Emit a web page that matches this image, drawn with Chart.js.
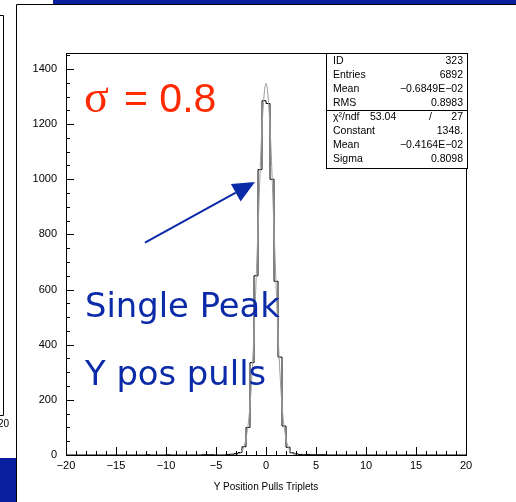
<!DOCTYPE html>
<html>
<head>
<meta charset="utf-8">
<script src="https://cdn.jsdelivr.net/npm/chart.js@4"></script>
<style>
  html, body { margin: 0; padding: 0; background: #fff; }
  #wrap { width: 516px; height: 502px; position: relative; }
</style>
</head>
<body>
<div id="wrap"><canvas id="pullsChart" width="516" height="502"></canvas></div>
<script>
// histogram: 100 bins of 0.4 from -20 to 20
const binStart = -20;
const binWidth = 0.4;
const counts = [
    0, 0, 0, 0, 0, 0, 0, 0, 0, 0,        // -20.0 .. -16.4
    0, 0, 0, 0, 0, 0, 0, 0, 0, 0,        // -16.0 .. -12.4
    1, 0, 0, 0, 0, 1, 0, 0, 0, 0,        // -12.0 .. -8.4
    0, 0, 0, 0, 1, 1, 1, 0, 0, 0,        // -8.0 .. -4.4
    2, 3, 5, 9, 30, 100, 335, 650, 1035, 1285,   // -4.0 .. -0.4
    1275, 1000, 630, 355, 105, 28, 8, 4, 2, 1,   // 0.0 .. 3.6
    2, 1, 1, 1, 1, 0, 0, 0, 0, 0,        // 4.0 .. 7.6
    0, 0, 0, 0, 0, 0, 0, 0, 0, 0,        // 8.0 .. 11.6
    0, 0, 0, 0, 0, 0, 0, 0, 0, 0,        // 12.0 .. 15.6
    0, 0, 0, 0, 0, 0, 0, 0, 0, 0         // 16.0 .. 19.6
];

// gaussian fit curve
const fitX = [-3.2, -2.8, -2.4, -2.0, -1.6, -1.2, -0.8, -0.4, 0, 0.4, 0.8, 1.2, 1.6, 2.0, 2.4, 2.8, 3.2];
const fitY = [1, 3, 15, 60, 180, 440, 820, 1190, 1348, 1190, 820, 440, 180, 60, 15, 3, 1];

const xTicks = [-20, -15, -10, -5, 0, 5, 10, 15, 20];
const yTicks = [0, 200, 400, 600, 800, 1000, 1200, 1400];

const statsTop = [["ID", "323"], ["Entries", "6892"], ["Mean", "\u22120.6849E\u221202"], ["RMS", "0.8983"]];
const statsFit = [["Constant", "1348."], ["Mean", "\u22120.4164E\u221202"], ["Sigma", "0.8098"]];
const chiText = ["\u03c7\u00b2/ndf", "53.04", "/", "27"];

const xTitle = "Y Position Pulls Triplets";
const sigmaLabel = "0.8";
const noteLines = ["Single Peak", "Y pos pulls"];

const histPoints = counts.map((c, i) => ({ x: binStart + i * binWidth, y: c }));
histPoints.push({ x: binStart + counts.length * binWidth, y: counts[counts.length - 1] });
const fitPoints = fitX.map((x, i) => ({ x: x, y: fitY[i] }));

const minus = v => String(v).replace("-", "\u2212");

const decor = {
    id: "decor",
    afterDraw(chart) {
        const ctx = chart.ctx;
        const xs = chart.scales.x, ys = chart.scales.y;
        const a = chart.chartArea;
        ctx.save();

        // slide bits around the plot
        ctx.fillStyle = "#0a1fa0";
        ctx.fillRect(53, 0, 463, 4);
        ctx.fillRect(0, 458, 16, 44);
        ctx.strokeStyle = "#000";
        ctx.lineWidth = 1;
        ctx.beginPath();
        ctx.moveTo(16.5, 502); ctx.lineTo(16.5, 4.5); ctx.lineTo(516, 4.5);
        ctx.moveTo(0, 15.5); ctx.lineTo(3.5, 15.5); ctx.lineTo(3.5, 415.5); ctx.lineTo(0, 415.5);
        ctx.stroke();
        ctx.fillStyle = "#000";
        ctx.font = "10px 'Liberation Sans'";
        ctx.textAlign = "right";
        ctx.textBaseline = "middle";
        ctx.fillText("20", 9, 424);

        // frame top and right
        ctx.beginPath();
        ctx.moveTo(a.left, a.top + 0.5); ctx.lineTo(a.right + 1, a.top + 0.5);
        ctx.moveTo(a.right + 0.5, a.top); ctx.lineTo(a.right + 0.5, a.bottom);
        ctx.stroke();

        // inward ticks
        ctx.beginPath();
        for (let v = -20; v <= 20; v++) {
            const px = Math.round(xs.getPixelForValue(v)) + 0.5;
            const len = v % 5 === 0 ? 8 : 4;
            ctx.moveTo(px, a.bottom); ctx.lineTo(px, a.bottom - len);
        }
        for (let v = 0; v <= 1450; v += 50) {
            const py = Math.round(ys.getPixelForValue(v)) + 0.5;
            const len = v % 200 === 0 ? 8 : 4;
            ctx.moveTo(a.left, py); ctx.lineTo(a.left + len, py);
        }
        ctx.stroke();

        // axis title
        ctx.font = "10px 'Liberation Sans'";
        ctx.textAlign = "center";
        ctx.textBaseline = "middle";
        ctx.fillText(xTitle, (a.left + a.right) / 2, 487);

        // stats box
        const bx = 326, by = a.top, bw = a.right + 2 - 326, bh = 115;
        ctx.fillStyle = "#fff";
        ctx.fillRect(bx, by, bw, bh);
        ctx.strokeRect(bx + 0.5, by + 0.5, bw - 1, bh);
        ctx.beginPath();
        ctx.moveTo(bx, 110.5); ctx.lineTo(bx + bw, 110.5);
        ctx.stroke();
        ctx.fillStyle = "#000";
        ctx.font = "10.5px 'Liberation Sans'";
        ctx.textBaseline = "middle";
        statsTop.forEach((r, i) => {
            const y = 61 + i * 14;
            ctx.textAlign = "left"; ctx.fillText(r[0], 333, y);
            ctx.textAlign = "right"; ctx.fillText(r[1], bx + bw - 5, y);
        });
        ctx.textAlign = "left";
        ctx.fillText(chiText[0], 333, 117);
        ctx.fillText(chiText[1], 370, 117);
        ctx.fillText(chiText[2], 429, 117);
        ctx.textAlign = "right";
        ctx.fillText(chiText[3], bx + bw - 5, 117);
        statsFit.forEach((r, i) => {
            const y = 131 + i * 14;
            ctx.textAlign = "left"; ctx.fillText(r[0], 333, y);
            ctx.textAlign = "right"; ctx.fillText(r[1], bx + bw - 5, y);
        });

        // sigma label
        ctx.fillStyle = "#ff2a00";
        ctx.textAlign = "left";
        ctx.textBaseline = "alphabetic";
        ctx.font = "46px 'Liberation Serif'";
        ctx.fillText("\u03c3", 84, 112);
        ctx.font = "41px 'Liberation Sans'";
        ctx.fillText("= " + sigmaLabel, 124, 112);

        // handwritten-style notes
        ctx.fillStyle = "#0b2aa8";
        ctx.font = "32px 'DejaVu Sans'";
        const w0 = ctx.measureText(noteLines[0]).width;
        const size = 32 * 195 / w0;
        ctx.font = size.toFixed(1) + "px 'DejaVu Sans'";
        ctx.fillText(noteLines[0], 85, 317);
        ctx.fillText(noteLines[1], 85, 385);

        // arrow pointing at the peak
        const x0 = xs.getPixelForValue(-12.1), y0 = ys.getPixelForValue(770);
        const x1 = xs.getPixelForValue(-1.1), y1 = ys.getPixelForValue(990);
        const dx = x1 - x0, dy = y1 - y0, L = Math.hypot(dx, dy);
        const ux = dx / L, uy = dy / L;
        const hl = 22, hw = 10;
        ctx.strokeStyle = "#0b2aa8";
        ctx.lineWidth = 2;
        ctx.beginPath();
        ctx.moveTo(x0, y0); ctx.lineTo(x1 - ux * hl, y1 - uy * hl);
        ctx.stroke();
        ctx.beginPath();
        ctx.moveTo(x1, y1);
        ctx.lineTo(x1 - ux * hl - uy * hw, y1 - uy * hl + ux * hw);
        ctx.lineTo(x1 - ux * hl + uy * hw, y1 - uy * hl - ux * hw);
        ctx.closePath();
        ctx.fillStyle = "#0b2aa8";
        ctx.fill();

        ctx.restore();
    }
};

new Chart(document.getElementById("pullsChart"), {
    type: "line",
    data: {
        datasets: [
            {
                label: "fit",
                data: fitPoints,
                borderColor: "#9a9a9a",
                borderWidth: 1,
                pointRadius: 0,
                cubicInterpolationMode: "monotone",
                fill: false
            },
            {
                label: "pulls",
                data: histPoints,
                borderColor: "#000",
                borderWidth: 1,
                pointRadius: 0,
                stepped: "before",
                fill: false
            }
        ]
    },
    options: {
        responsive: false,
        animation: false,
        layout: { padding: { top: 53, right: 50, left: 0, bottom: 0 } },
        plugins: { legend: { display: false }, tooltip: { enabled: false } },
        scales: {
            x: {
                type: "linear",
                min: -20,
                max: 20,
                afterBuildTicks: s => { s.ticks = xTicks.map(v => ({ value: v })); },
                afterFit: s => { s.height = 47; },
                grid: { display: false, drawTicks: false },
                border: { display: true, color: "#000", width: 1 },
                ticks: {
                    color: "#000",
                    padding: 4,
                    maxRotation: 0,
                    font: { family: "'Liberation Sans'", size: 11 },
                    callback: v => minus(v)
                }
            },
            y: {
                type: "linear",
                min: 0,
                max: 1458,
                afterBuildTicks: s => { s.ticks = yTicks.map(v => ({ value: v })); },
                afterFit: s => { s.width = 66; },
                grid: { display: false, drawTicks: false },
                border: { display: true, color: "#000", width: 1 },
                ticks: {
                    color: "#000",
                    padding: 9,
                    font: { family: "'Liberation Sans'", size: 11 },
                    callback: v => String(v)
                }
            }
        }
    },
    plugins: [decor]
});
</script>
</body>
</html>
